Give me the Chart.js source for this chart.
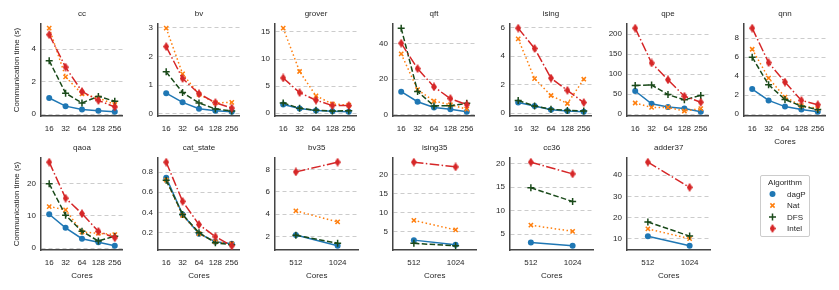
<!DOCTYPE html>
<html>
<head>
<meta charset="utf-8">
<script src="https://cdn.jsdelivr.net/npm/chart.js@4.4.1/dist/chart.umd.min.js"></script>
<style>
  body { margin: 0; background: #fff; width: 839px; height: 290px; position: relative; overflow: hidden; }
  .panel { position: absolute; width: 130px; height: 151px; }
  #legendBox { position: absolute; left: 760px; top: 175px; width: 48px; height: 60px; border: 1px solid #cccccc; border-radius: 2px; background: #fff; }
</style>
</head>
<body>
<div id="legendBox"><canvas id="legendCanvas" width="48" height="60"></canvas></div>
<script>
// x categories
const cores = ['16', '32', '64', '128', '256'];
const coresBig = ['512', '1024'];

// communication time (s) per benchmark
const cc = { dagP: [1.0, 0.5, 0.3, 0.22, 0.15], Nat: [5.3, 2.3, 1.25, 1.0, 0.6], DFS: [3.3, 1.3, 0.7, 1.1, 0.8], Intel: [4.9, 2.9, 1.4, 0.85, 0.45] };
const bv = { dagP: [0.72, 0.4, 0.18, 0.11, 0.07], Nat: [2.98, 1.39, 0.68, 0.38, 0.4], DFS: [1.46, 0.74, 0.38, 0.17, 0.1], Intel: [2.34, 1.23, 0.7, 0.39, 0.2] };
const grover = { dagP: [1.6, 0.85, 0.5, 0.35, 0.25], Nat: [15.7, 7.7, 3.2, 1.7, 1.5], DFS: [1.9, 0.9, 0.55, 0.4, 0.45], Intel: [6.5, 3.8, 2.4, 1.4, 1.4] };
const qft = { dagP: [12.9, 7.2, 4.0, 3.0, 1.5], Nat: [34.3, 14, 7.6, 5.5, 3.0], DFS: [48.8, 13, 4.8, 5, 6.3], Intel: [40.3, 25.9, 15.6, 9, 5.5] };
const ising = { dagP: [0.75, 0.5, 0.25, 0.15, 0.1], Nat: [5.2, 2.42, 1.24, 0.68, 2.38], DFS: [0.9, 0.5, 0.28, 0.2, 0.15], Intel: [5.95, 4.53, 2.46, 1.6, 0.75] };
const qpe = { dagP: [58, 26, 18, 14, 6], Nat: [28, 17, 17, 8, 14], DFS: [72, 73, 49, 36, 47], Intel: [215, 128, 86, 45, 30] };
const qnn = { dagP: [2.65, 1.45, 0.8, 0.5, 0.25], Nat: [6.84, 3.8, 1.8, 0.9, 0.6], DFS: [6.0, 3.1, 1.55, 0.85, 0.5], Intel: [9.06, 5.43, 3.38, 1.45, 1.0] };
const qaoa = { dagP: [10.5, 6.3, 2.9, 1.8, 0.7], Nat: [12.9, 11.9, 5.0, 4.6, 4.2], DFS: [20, 10.2, 5.2, 2.2, 3.7], Intel: [26.7, 15.5, 10.7, 5.2, 3.2] };
const catState = { dagP: [0.745, 0.38, 0.19, 0.11, 0.09], Nat: [0.72, 0.37, 0.19, 0.11, 0.09], DFS: [0.72, 0.38, 0.2, 0.1, 0.08], Intel: [0.898, 0.51, 0.28, 0.16, 0.07] };
const bv35 = { dagP: [2.13, 1.16], Nat: [4.3, 3.3], DFS: [2.1, 1.4], Intel: [7.79, 8.66] };
const ising35 = { dagP: [2.7, 1.5], Nat: [7.9, 5.4], DFS: [1.85, 1.2], Intel: [23.25, 22.0] };
const cc36 = { dagP: [3.2, 2.5], Nat: [6.9, 5.6], DFS: [14.9, 11.95], Intel: [20.35, 17.85] };
const adder37 = { dagP: [11.1, 6.6], Nat: [14.6, 10.0], DFS: [17.9, 11.2], Intel: [46.2, 34.3] };

// y tick labels per panel
const ccTicks = [0, 2, 4];
const bvTicks = [0, 1, 2, 3];
const groverTicks = [0, 5, 10, 15];
const qftTicks = [0, 20, 40];
const isingTicks = [0, 2, 4, 6];
const qpeTicks = [0, 50, 100, 150, 200];
const qnnTicks = [0, 2, 4, 6, 8];
const qaoaTicks = [0, 10, 20];
const catTicks = [0.2, 0.4, 0.6, 0.8];
const bv35Ticks = [2, 4, 6, 8];
const ising35Ticks = [5, 10, 15, 20];
const cc36Ticks = [5, 10, 15, 20];
const adder37Ticks = [10, 20, 30, 40];

const algos = ['dagP', 'Nat', 'DFS', 'Intel'];
const colors = ['#1f77b4', '#ff7f0e', '#1a4a1a', '#d62728'];
const dashes = [[], [1.5, 2.5], [5.5, 2.4], [9.6, 2.4, 1.5, 2.4]];
const FONT = '"Liberation Sans", Arial, sans-serif';
const TXT = '#262626';

// thin diamond marker for Intel
const diamond = document.createElement('canvas');
diamond.width = 6; diamond.height = 9;
const dctx = diamond.getContext('2d');
dctx.fillStyle = colors[3];
dctx.beginPath();
dctx.moveTo(3, 0); dctx.lineTo(6, 4.5); dctx.lineTo(3, 9); dctx.lineTo(0, 4.5);
dctx.closePath(); dctx.fill();

const pointStyles = ['circle', 'crossRot', 'cross', diamond];
const pointRadii = [3, 3, 3.5, 4];

// subplot title centred over the plot area
const panelTitle = {
    id: 'panelTitle',
    afterDraw(chart, args, opts) {
        const ctx = chart.ctx, area = chart.chartArea;
        ctx.save();
        ctx.fillStyle = TXT;
        ctx.font = '8px ' + FONT;
        ctx.textAlign = 'center';
        ctx.textBaseline = 'middle';
        ctx.fillText(opts.text, (area.left + area.right) / 2, 13.3);
        ctx.restore();
    }
};

function makePanel(title, labels, series, ticks, axisLeft, top, yTitle, xTitle) {
    const div = document.createElement('div');
    div.className = 'panel';
    div.style.left = (axisLeft - 41) + 'px';
    div.style.top = top + 'px';
    const cv = document.createElement('canvas');
    cv.width = 130; cv.height = 151;
    div.appendChild(cv);
    document.body.appendChild(div);

    let all = [];
    algos.forEach(a => { all = all.concat(series[a]); });
    const lo = Math.min(...all), hi = Math.max(...all);
    const pad = (hi - lo) * 0.05;

    new Chart(cv, {
        type: 'line',
        data: {
            labels: labels,
            datasets: algos.map((a, i) => ({
                label: a,
                data: series[a],
                borderColor: colors[i],
                backgroundColor: colors[i],
                borderWidth: 1.5,
                borderDash: dashes[i],
                pointStyle: pointStyles[i],
                pointRadius: pointRadii[i],
                pointBorderWidth: i === 0 ? 0 : 1.5,
                tension: 0,
                order: 4 - i
            }))
        },
        options: {
            responsive: false,
            animation: false,
            layout: { padding: { left: 0, right: 4, top: 24, bottom: 0 } },
            plugins: {
                legend: { display: false },
                tooltip: { enabled: false },
                panelTitle: { text: title }
            },
            scales: {
                x: {
                    type: 'category',
                    offset: true,
                    grid: { display: false, drawTicks: false },
                    border: { display: true, color: '#444', width: 1.5 },
                    ticks: { color: TXT, font: { family: FONT, size: 8 }, padding: 8, maxRotation: 0, autoSkip: false },
                    title: { display: xTitle, text: 'Cores', color: TXT, font: { family: FONT, size: 8 }, padding: { top: 0, bottom: 4.2 } },
                    afterFit: s => { s.height = 35; }
                },
                y: {
                    min: lo - pad,
                    max: hi + pad,
                    bounds: 'data',
                    afterBuildTicks: s => { s.ticks = ticks.map(v => ({ value: v })); },
                    grid: { color: '#cccccc', lineWidth: 1, drawTicks: false },
                    border: { display: true, color: '#444', width: 1.5, dash: [4, 3] },
                    ticks: { color: TXT, font: { family: FONT, size: 8 }, padding: 5, callback: v => String(v) },
                    title: { display: yTitle, text: 'Communication time (s)', color: TXT, font: { family: FONT, size: 8 }, padding: { top: 12, bottom: 0 } },
                    afterFit: s => { s.width = 41; }
                }
            }
        },
        plugins: [panelTitle]
    });
}

const lefts = [41, 158.2, 275.4, 392.6, 509.8, 627, 744.2];
const row1 = 0, row2 = 133.7;

makePanel('cc', cores, cc, ccTicks, lefts[0], row1, true, false);
makePanel('bv', cores, bv, bvTicks, lefts[1], row1, false, false);
makePanel('grover', cores, grover, groverTicks, lefts[2], row1, false, false);
makePanel('qft', cores, qft, qftTicks, lefts[3], row1, false, false);
makePanel('ising', cores, ising, isingTicks, lefts[4], row1, false, false);
makePanel('qpe', cores, qpe, qpeTicks, lefts[5], row1, false, false);
makePanel('qnn', cores, qnn, qnnTicks, lefts[6], row1, false, true);

makePanel('qaoa', cores, qaoa, qaoaTicks, lefts[0], row2, true, true);
makePanel('cat_state', cores, catState, catTicks, lefts[1], row2, false, true);
makePanel('bv35', coresBig, bv35, bv35Ticks, lefts[2], row2, false, true);
makePanel('ising35', coresBig, ising35, ising35Ticks, lefts[3], row2, false, true);
makePanel('cc36', coresBig, cc36, cc36Ticks, lefts[4], row2, false, true);
makePanel('adder37', coresBig, adder37, adder37Ticks, lefts[5], row2, false, true);

// legend drawn on its own empty chart
const legendPlugin = {
    id: 'algoLegend',
    afterDraw(chart) {
        const ctx = chart.ctx;
        ctx.save();
        ctx.fillStyle = TXT;
        ctx.font = '8px ' + FONT;
        ctx.textBaseline = 'middle';
        ctx.textAlign = 'center';
        ctx.fillText('Algorithm', 24, 6.5);
        ctx.textAlign = 'left';
        algos.forEach((a, i) => {
            const y = 18 + i * 11.5;
            ctx.strokeStyle = colors[i];
            ctx.fillStyle = colors[i];
            ctx.lineWidth = 1.5;
            Chart.helpers.drawPoint(ctx, {
                pointStyle: pointStyles[i],
                radius: pointRadii[i],
                borderWidth: i === 0 ? 0 : 1.5,
                rotation: 0
            }, 11.5, y);
            ctx.fillStyle = TXT;
            ctx.fillText(a, 26, y + 0.5);
        });
        ctx.restore();
    }
};

new Chart(document.getElementById('legendCanvas'), {
    type: 'line',
    data: { labels: [], datasets: [] },
    options: {
        responsive: false,
        animation: false,
        plugins: { legend: { display: false }, tooltip: { enabled: false } },
        scales: { x: { display: false }, y: { display: false } }
    },
    plugins: [legendPlugin]
});
</script>
</body>
</html>
